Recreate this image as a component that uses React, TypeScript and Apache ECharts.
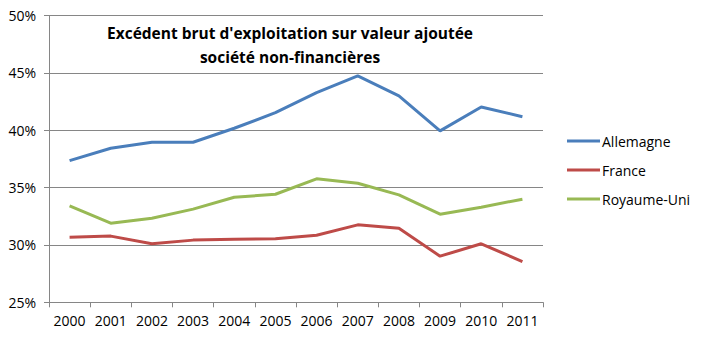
import React, { useEffect, useRef } from "react";
import * as echarts from "echarts";

const years = ["2000", "2001", "2002", "2003", "2004", "2005", "2006", "2007", "2008", "2009", "2010", "2011"];
const allemagne = [37.35, 38.43, 38.95, 38.95, 40.17, 41.53, 43.28, 44.73, 43.0, 39.94, 42.03, 41.18];
const france = [30.68, 30.77, 30.1, 30.42, 30.5, 30.53, 30.85, 31.75, 31.46, 29.02, 30.1, 28.55];
const royaumeUni = [33.41, 31.9, 32.33, 33.12, 34.16, 34.42, 35.76, 35.38, 34.36, 32.68, 33.29, 33.99];
const seriesNames = ["Allemagne", "France", "Royaume-Uni"];
const colors = ["#4A7EBB", "#BE4B48", "#98B954"];
const titleLines = ["Excédent brut d'exploitation sur valeur ajoutée", "société non-financières"];

const FONT = "'Open Sans', sans-serif";

export default function App() {
  const ref = useRef<HTMLDivElement>(null);
  useEffect(() => {
    if (!ref.current) return;
    const chart = echarts.init(ref.current, null, { renderer: "svg" });
    const data = [allemagne, france, royaumeUni];
    chart.setOption({
      animation: false,
      backgroundColor: "#ffffff",
      textStyle: { fontFamily: FONT },
      grid: { left: 49, right: 162, top: 15.5, bottom: 40.7, containLabel: false },
      graphic: [
        {
          type: "text",
          x: 290,
          y: 33,
          style: {
            text: titleLines[0],
            align: "center",
            verticalAlign: "middle",
            fontSize: 15.5,
            fontWeight: "bold",
            fontFamily: FONT,
            fill: "#000000",
          },
        },
        {
          type: "text",
          x: 290,
          y: 57,
          style: {
            text: titleLines[1],
            align: "center",
            verticalAlign: "middle",
            fontSize: 15.5,
            fontWeight: "bold",
            fontFamily: FONT,
            fill: "#000000",
          },
        },
      ],
      legend: {
        orient: "vertical",
        left: 567,
        top: 132,
        padding: 0,
        itemWidth: 33,
        itemHeight: 3,
        itemGap: 11,
        icon: "rect",
        data: seriesNames,
        textStyle: { fontSize: 14, color: "#000000", fontFamily: FONT, padding: [0, 0, 0, -3], lineHeight: 18 },
      },
      xAxis: {
        type: "category",
        data: years,
        boundaryGap: true,
        axisLine: { show: true, lineStyle: { color: "#868686", width: 1 } },
        axisTick: { show: true, length: 5, alignWithLabel: false, interval: 0, lineStyle: { color: "#868686" } },
        axisLabel: { fontSize: 14, color: "#000000", margin: 11, interval: 0, fontFamily: FONT },
        splitLine: { show: false },
      },
      yAxis: {
        type: "value",
        min: 25,
        max: 50,
        interval: 5,
        axisLine: { show: true, lineStyle: { color: "#868686", width: 1 } },
        axisTick: { show: true, length: 5, lineStyle: { color: "#868686" } },
        axisLabel: { fontSize: 14, color: "#000000", margin: 13, formatter: "{value}%", fontFamily: FONT },
        splitLine: { show: true, lineStyle: { color: "#868686", width: 1 } },
      },
      series: seriesNames.map((name, i) => ({
        name,
        type: "line",
        data: data[i],
        showSymbol: false,
        symbol: "none",
        color: colors[i],
        lineStyle: { width: 3, color: colors[i] },
      })),
    });
    return () => chart.dispose();
  }, []);
  return <div ref={ref} style={{ width: 705, height: 343, position: "absolute", left: 0, top: 0 }} />;
}
